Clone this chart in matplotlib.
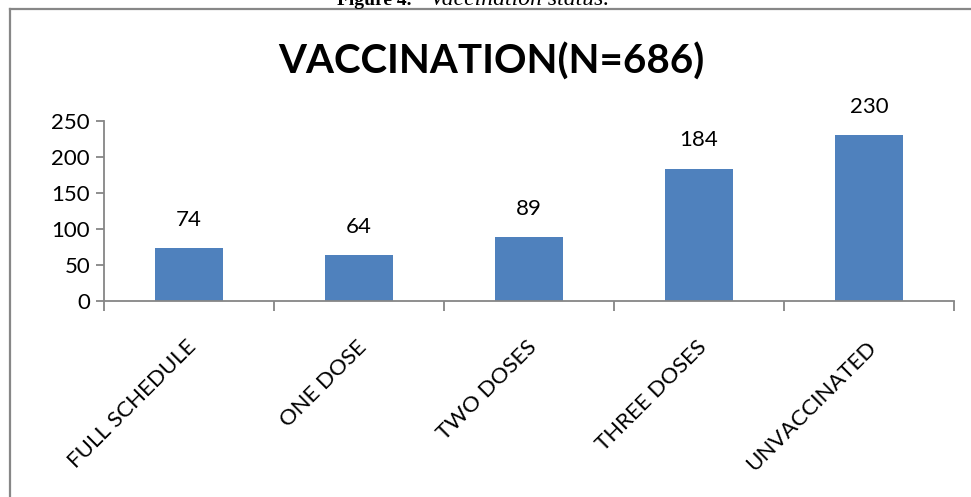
import matplotlib
matplotlib.use("Agg")
import matplotlib.pyplot as plt
from matplotlib.lines import Line2D

categories = ["FULL SCHEDULE", "ONE DOSE", "TWO DOSES", "THREE DOSES", "UNVACCINATED"]
values = [74, 64, 89, 184, 230]
yticks = [0, 50, 100, 150, 200, 250]
title = "VACCINATION(N=686)"

W, H = 971, 497
fig = plt.figure(figsize=(W / 100, H / 100), dpi=100)
fig.patch.set_facecolor("white")

def fx(px):
    return px / W

def fy(py):
    return 1 - py / H

ax = fig.add_axes([fx(104), fy(301), fx(954) - fx(104), fy(121) - fy(301)])
x = list(range(len(categories)))
bars = ax.bar(x, values, width=0.4, color="#4F81BD", zorder=2)
ax.set_xlim(-0.5, len(categories) - 0.5)
ax.set_ylim(0, 250)

font = "Lato"
axis_col = "#868686"
for s in ["top", "right"]:
    ax.spines[s].set_visible(False)
for s in ["left", "bottom"]:
    ax.spines[s].set_color(axis_col)
    ax.spines[s].set_linewidth(1.3)

ax.set_yticks(yticks)
ax.set_yticklabels([str(v) for v in yticks], fontsize=16, family=font)
ax.tick_params(axis="y", direction="out", length=6, color=axis_col, width=1.3, pad=4)

# category boundary ticks
ax.set_xticks([i - 0.5 for i in range(len(categories) + 1)])
ax.set_xticklabels([])
ax.tick_params(axis="x", direction="out", length=7, color=axis_col, width=1.3)
for i, c in enumerate(categories):
    ax.annotate(c, xy=(i, 0), xycoords="data", xytext=(3, -31), textcoords="offset points",
                rotation=45, ha="right", va="center", rotation_mode="anchor",
                fontsize=16, family=font)

for i, v in enumerate(values):
    ax.annotate(str(v), xy=(i, v), xytext=(0, 13), textcoords="offset points",
                ha="center", va="bottom", fontsize=16, family=font)

fig.text(fx(491), fy(62), title, ha="center", va="center", fontsize=29,
         fontweight="bold", family=font)

# outer frame (left and top visible)
fig.add_artist(Line2D([fx(10), fx(10)], [fy(9), 0], color="#878787", lw=1.6, transform=fig.transFigure))
fig.add_artist(Line2D([fx(10), 1], [fy(9), fy(9)], color="#878787", lw=1.6, transform=fig.transFigure))

# caption (partly cut off at top, as in the reference)
fig.text(fx(337), fy(5), "Figure 4.", ha="left", va="baseline", fontsize=14,
         fontweight="bold", family="Liberation Serif")
fig.text(fx(430), fy(5), "Vaccination status.", ha="left", va="baseline", fontsize=17,
         style="italic", family="Liberation Serif")

fig.savefig("out.png", dpi=100, facecolor="white")
